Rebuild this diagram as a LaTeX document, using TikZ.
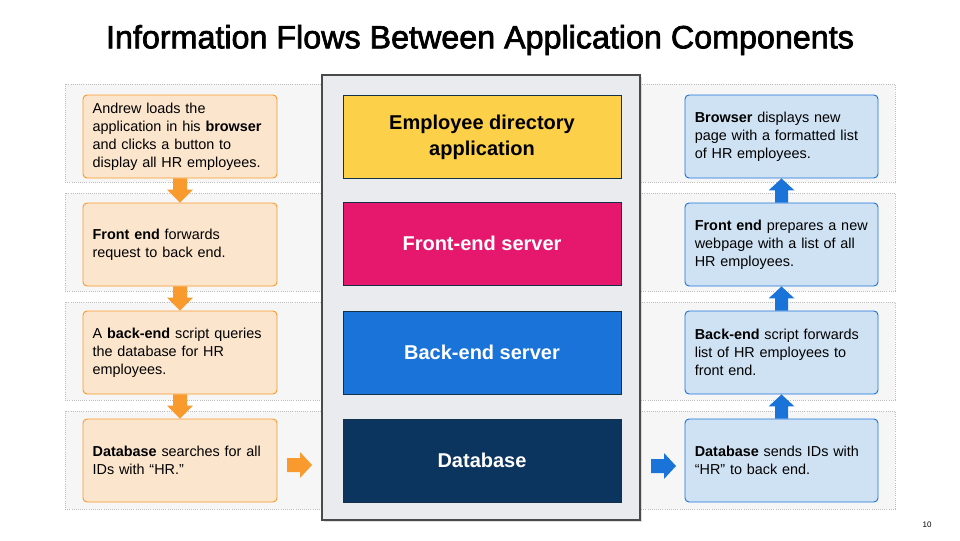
\documentclass[tikz,border=0pt]{standalone}
\usepackage{fontspec}
\setmainfont{Liberation Sans}
\newfontfamily\titlefont[FakeBold=2.2]{Liberation Sans}
\usetikzlibrary{calc,shadows}

\definecolor{bandfill}{HTML}{F6F6F6}
\definecolor{bandline}{HTML}{BDBDBD}
\definecolor{panelfill}{HTML}{EAEBEF}
\definecolor{paneline}{HTML}{4A4A4A}
\definecolor{stepfill}{HTML}{FCE5CD}
\definecolor{stepline}{HTML}{F89A2E}
\definecolor{flowfill}{HTML}{CFE2F3}
\definecolor{flowline}{HTML}{1A73D8}
\definecolor{appyellow}{HTML}{FDD04A}
\definecolor{frontpink}{HTML}{E5186E}
\definecolor{backblue}{HTML}{1A73D8}
\definecolor{dbnavy}{HTML}{0B355F}
\definecolor{tierline}{HTML}{12324A}

\tikzset{
  band/.style={fill=bandfill, draw=bandline, densely dotted, line width=0.6pt},
  panel/.style={fill=panelfill, draw=paneline, line width=0.8pt,
    minimum width=238.5pt, minimum height=333.75pt, inner sep=0pt,
    drop shadow={opacity=0.25, shadow xshift=1.2pt, shadow yshift=-1.2pt}},
  stepbox/.style={fill=stepfill, draw=stepline, line width=0.7pt, rounded corners=3pt,
    minimum width=145.5pt, minimum height=62.25pt, inner sep=0pt,
    align=left, text width=131pt, font=\fontsize{10.8pt}{13.5pt}\selectfont},
  flowbox/.style={stepbox, fill=flowfill, draw=flowline, minimum width=144.75pt, text width=130pt},
  tierbox/.style={draw=tierline, line width=0.7pt, minimum width=208.5pt, minimum height=62.25pt,
    inner sep=0pt, align=center, font=\fontsize{15pt}{19.5pt}\selectfont\bfseries},
}

% filled block arrow pointing down, from the bottom of #1 to the top of #2
\newcommand\blockdown[3]{%
  \fill[#3] ($(#1.south)+(-7,0)$) -- ($(#1.south)+(7,0)$) -- ($(#2.north)+(7,-13)$)
    -- ($(#2.north)+(13,-13)$) -- (#2.north) -- ($(#2.north)+(-13,-13)$)
    -- ($(#2.north)+(-7,-13)$) -- cycle;}
% filled block arrow pointing up, from the top of #1 to the bottom of #2
\newcommand\blockup[3]{%
  \fill[#3] ($(#1.north)+(-6.5,0)$) -- ($(#1.north)+(6.5,0)$) -- ($(#2.south)+(6.5,12)$)
    -- ($(#2.south)+(13,12)$) -- (#2.south) -- ($(#2.south)+(-13,12)$)
    -- ($(#2.south)+(-6.5,12)$) -- cycle;}
% filled block arrow pointing right, from coordinate #1 to coordinate #2
\newcommand\blockright[3]{%
  \fill[#3] ($(#1)+(0,-7)$) -- ($(#2)+(-12,-7)$) -- ($(#2)+(-12,-13)$) -- (#2)
    -- ($(#2)+(-12,13)$) -- ($(#2)+(-12,7)$) -- ($(#1)+(0,7)$) -- cycle;}

\begin{document}
\begin{tikzpicture}[x=0.75pt, y=-0.75pt]
  \useasboundingbox[fill=white] (0,0) rectangle (960,540);

  % title
  \node[font=\titlefont\fontsize{24.2pt}{29pt}\selectfont] (title) at (480,40) {Information Flows Between Application Components};

  % row bands
  \foreach \t in {84,193,302,411}
    \draw[band] (65,\t) rectangle (895,\t+98);

  % central stack of tiers
  \node[panel] (panel) at (481,297.5) {};
  \node[tierbox, fill=appyellow, text=black] (app) at (482,137) {Employee directory\\application};
  \node[tierbox, fill=frontpink, text=white] (front) at (482,243.5) {Front-end server};
  \node[tierbox, fill=backblue, text=white] (back) at (482,352.5) {Back-end server};
  \node[tierbox, fill=dbnavy, text=white] (db) at (482,460.5) {Database};

  % request path
  \node[stepbox] (l1) at (180,136.5) {Andrew loads the\\application in his \textbf{browser}\\and clicks a button to\\display all HR employees.};
  \node[stepbox] (l2) at (180,244.5) {\textbf{Front end} forwards\\request to back end.};
  \node[stepbox] (l3) at (180,352.5) {A \textbf{back-end} script queries\\the database for HR\\employees.};
  \node[stepbox] (l4) at (180,460.5) {\textbf{Database} searches for all\\IDs with “HR.”};

  % response path
  \node[flowbox] (r1) at (781.5,136.5) {\textbf{Browser} displays new\\page with a formatted list\\of HR employees.};
  \node[flowbox] (r2) at (781.5,244.5) {\textbf{Front end} prepares a new\\webpage with a list of all\\HR employees.};
  \node[flowbox] (r3) at (781.5,352.5) {\textbf{Back-end} script forwards\\list of HR employees to\\front end.};
  \node[flowbox] (r4) at (781.5,460.5) {\textbf{Database} sends IDs with\\“HR” to back end.};

  % arrows
  \blockdown{l1}{l2}{stepline}
  \blockdown{l2}{l3}{stepline}
  \blockdown{l3}{l4}{stepline}
  \blockup{r4}{r3}{flowline}
  \blockup{r3}{r2}{flowline}
  \blockup{r2}{r1}{flowline}

  \coordinate (inA) at (287,465);
  \coordinate (inB) at (312,465);
  \coordinate (outA) at (651,466);
  \coordinate (outB) at (676,466);
  \blockright{inA}{inB}{stepline}
  \blockright{outA}{outB}{flowline}

  % slide number
  \node[font=\fontsize{6pt}{7pt}\selectfont] (pagenum) at (927,525) {10};
\end{tikzpicture}
\end{document}
